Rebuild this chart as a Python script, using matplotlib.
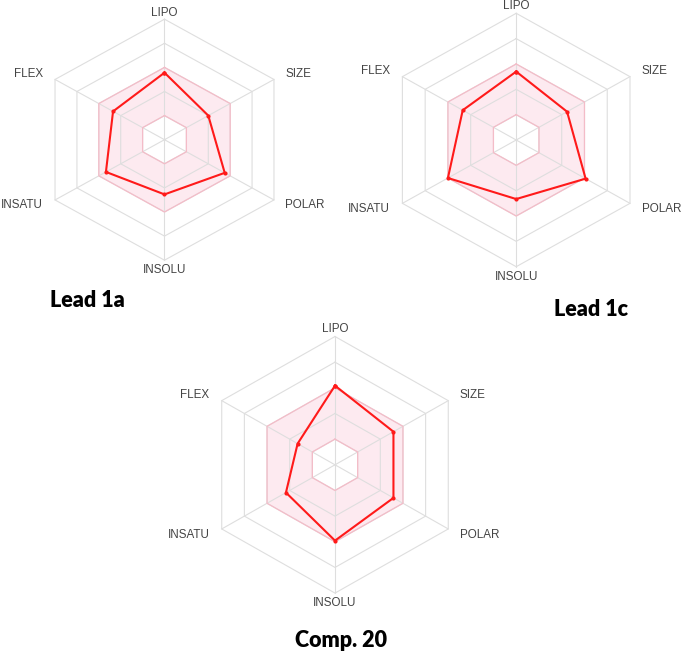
import numpy as np
import matplotlib
matplotlib.use("Agg")
import matplotlib.pyplot as plt

# ---- data ----
axis_labels = ["LIPO", "SIZE", "POLAR", "INSOLU", "INSATU", "FLEX"]
lead_1a = [0.556, 0.40, 0.55, 0.454, 0.535, 0.47]
lead_1c = [0.54, 0.447, 0.61, 0.466, 0.60, 0.47]
comp_20 = [0.617, 0.516, 0.516, 0.591, 0.433, 0.33]
titles = ["Lead 1a", "Lead 1c", "Comp. 20"]
optimal_low = 0.2
optimal_high = 0.6
ring_levels = [0.2, 0.4, 0.6, 0.8, 1.0]

W, H = 685, 656
fig = plt.figure(figsize=(W / 100, H / 100), dpi=100)
fig.patch.set_facecolor("white")

angles = np.deg2rad([90, 30, -30, -90, -150, 150])
cosA, sinA = np.cos(angles), np.sin(angles)

label_pos = [(0, 1.055, "center"), (0.955, 0.545, "left"), (0.955, -0.545, "left"),
             (0, -1.08, "center"), (-0.96, -0.545, "right"), (-0.96, 0.545, "right")]


def hexagon(r):
    x = np.append(r * cosA, r * cosA[0])
    y = np.append(r * sinA, r * sinA[0])
    return x, y


def add_radar(cx, cy, Rx, Ry, values):
    pad = 1.4
    ax = fig.add_axes([(cx - pad * Rx) / W, 1 - (cy + pad * Ry) / H,
                       2 * pad * Rx / W, 2 * pad * Ry / H])
    ax.set_xlim(-pad, pad)
    ax.set_ylim(-pad, pad)
    ax.axis("off")
    # optimal zone
    xo, yo = hexagon(optimal_high)
    xi, yi = hexagon(optimal_low)
    ax.fill(xo, yo, color="#fdeaf0", zorder=1, lw=0)
    ax.fill(xi, yi, color="white", zorder=1.1, lw=0)
    # grid
    for r in ring_levels:
        xr, yr = hexagon(r)
        ax.plot(xr, yr, color="#dedede", lw=0.8, zorder=2)
    for c, s in zip(cosA, sinA):
        ax.plot([0, c], [0, s], color="#dedede", lw=0.8, zorder=2)
    ax.plot(xo, yo, color="#f4bcc8", lw=0.9, zorder=2.5)
    ax.plot(xi, yi, color="#f4bcc8", lw=0.9, zorder=2.5)
    # data
    v = np.array(values)
    xs = np.append(v * cosA, v[0] * cosA[0])
    ys = np.append(v * sinA, v[0] * sinA[0])
    ax.plot(xs, ys, color="#ff1a1a", lw=1.5, zorder=3,
            marker="o", markersize=3, markeredgewidth=0)
    for (lx, ly, ha), lab in zip(label_pos, axis_labels):
        ax.text(lx, ly, lab, ha=ha, va="center", fontsize=8.4,
                family="Liberation Sans", color="#444444")


add_radar(164.5, 139.7, 126.4, 120.5, lead_1a)
add_radar(516.2, 140.0, 131.4, 126.7, lead_1c)
add_radar(335.0, 464.8, 130.8, 128.3, comp_20)

title_pos = [(87, 306.7), (591, 316), (341, 647)]
for (tx, ty), t in zip(title_pos, titles):
    fig.text(tx / W, 1 - ty / H, t, ha="center", va="baseline",
             fontsize=15.5, fontweight="heavy", family="Lato", color="black")

fig.savefig("out.png", dpi=100, facecolor="white")
